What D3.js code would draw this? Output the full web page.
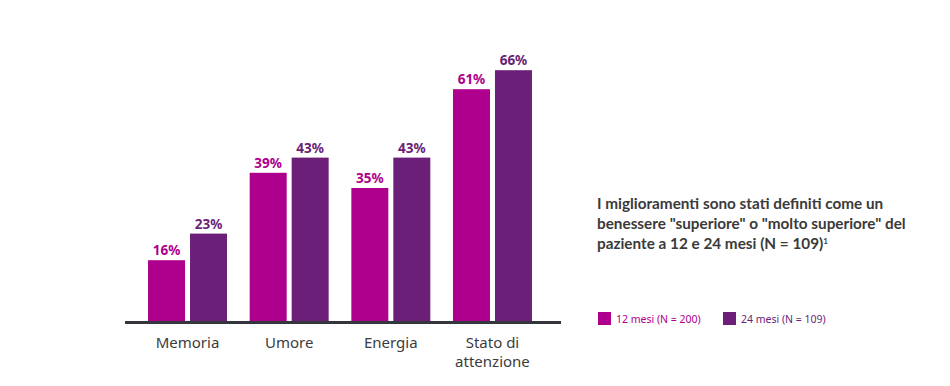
<!DOCTYPE html>
<html lang="it">
  <head>
    <meta charset="UTF-8" />
    <title>Miglioramenti 12 e 24 mesi</title>
    <script src="https://d3js.org/d3.v7.min.js"></script>
    <style>
      body {
        margin: 0;
        background: #fff;
      }
      svg {
        display: block;
      }
    </style>
  </head>
  <body>
    <svg width="950" height="386"></svg>
    <script>
      const categories = [["Memoria"], ["Umore"], ["Energia"], ["Stato di", "attenzione"]];
      const series = ["12 mesi (N = 200)", "24 mesi (N = 109)"];
      const values12 = [16, 39, 35, 61];
      const values24 = [23, 43, 43, 66];
      const titleLines = [
        "I miglioramenti sono stati definiti come un",
        'benessere "superiore" o "molto superiore" del',
        "paziente a 12 e 24 mesi (N = 109)",
      ];
      const colors = ["#ae008c", "#6b1f78"];

      const svg = d3.select("svg");
      const catNames = categories.map((c) => c.join(" "));
      const seriesValues = [values12, values24];

      const x = d3
        .scaleBand()
        .domain(catNames)
        .range([136.7, 543.3])
        .paddingInner(0.223)
        .paddingOuter(0.1115);

      const xs = d3
        .scaleBand()
        .domain(series)
        .range([0, x.bandwidth()])
        .paddingInner(0.119)
        .paddingOuter(0);

      const y = d3.scaleLinear().domain([0, 100]).range([321, -59]);

      const groups = svg
        .selectAll("g.cat")
        .data(catNames)
        .enter()
        .append("g")
        .attr("class", "cat")
        .attr("transform", (d) => `translate(${x(d)},0)`);

      series.forEach((s, si) => {
        groups
          .append("rect")
          .attr("x", xs(s))
          .attr("width", xs.bandwidth())
          .attr("y", (d, i) => y(seriesValues[si][i]))
          .attr("height", (d, i) => y(0) - y(seriesValues[si][i]))
          .attr("fill", colors[si]);

        groups
          .append("text")
          .attr("x", xs(s) + xs.bandwidth() / 2)
          .attr("y", (d, i) => y(seriesValues[si][i]) - 5)
          .attr("text-anchor", "middle")
          .attr("font-family", "'Noto Sans', sans-serif")
          .attr("font-weight", "bold")
          .attr("font-size", 13.5)
          .attr("fill", colors[si])
          .text((d, i) => seriesValues[si][i] + "%");
      });

      // baseline
      svg
        .append("line")
        .attr("x1", 125)
        .attr("x2", 561)
        .attr("y1", 322.5)
        .attr("y2", 322.5)
        .attr("stroke", "#35363d")
        .attr("stroke-width", 3);

      // category labels
      groups.each(function (d, i) {
        const t = d3
          .select(this)
          .append("text")
          .attr("text-anchor", "middle")
          .attr("font-family", "'Noto Sans', sans-serif")
          .attr("font-size", 15)
          .attr("fill", "#3c3c3c");
        categories[i].forEach((line, li) => {
          t.append("tspan")
            .attr("x", x.bandwidth() / 2)
            .attr("y", 348 + li * 19)
            .text(line);
        });
      });

      // title
      const title = svg
        .append("text")
        .attr("font-family", "Lato, sans-serif")
        .attr("font-weight", "bold")
        .attr("font-size", 15.3)
        .attr("fill", "#3a3a3a");
      titleLines.forEach((line, i) => {
        title.append("tspan").attr("x", 597).attr("y", 209 + i * 20).text(line);
      });
      title
        .append("tspan")
        .attr("font-size", 8)
        .attr("dy", -5)
        .text("1");

      // legend
      const legend = svg
        .selectAll("g.legend")
        .data(series)
        .enter()
        .append("g")
        .attr("class", "legend")
        .attr("transform", (d, i) => `translate(${598 + i * 125},312)`);
      legend
        .append("rect")
        .attr("width", 13)
        .attr("height", 13)
        .attr("fill", (d, i) => colors[i]);
      legend
        .append("text")
        .attr("x", 18)
        .attr("y", 10.5)
        .attr("font-family", "'Noto Sans', sans-serif")
        .attr("font-size", 10.5)
        .attr("fill", (d, i) => colors[i])
        .text((d) => d);
    </script>
  </body>
</html>
